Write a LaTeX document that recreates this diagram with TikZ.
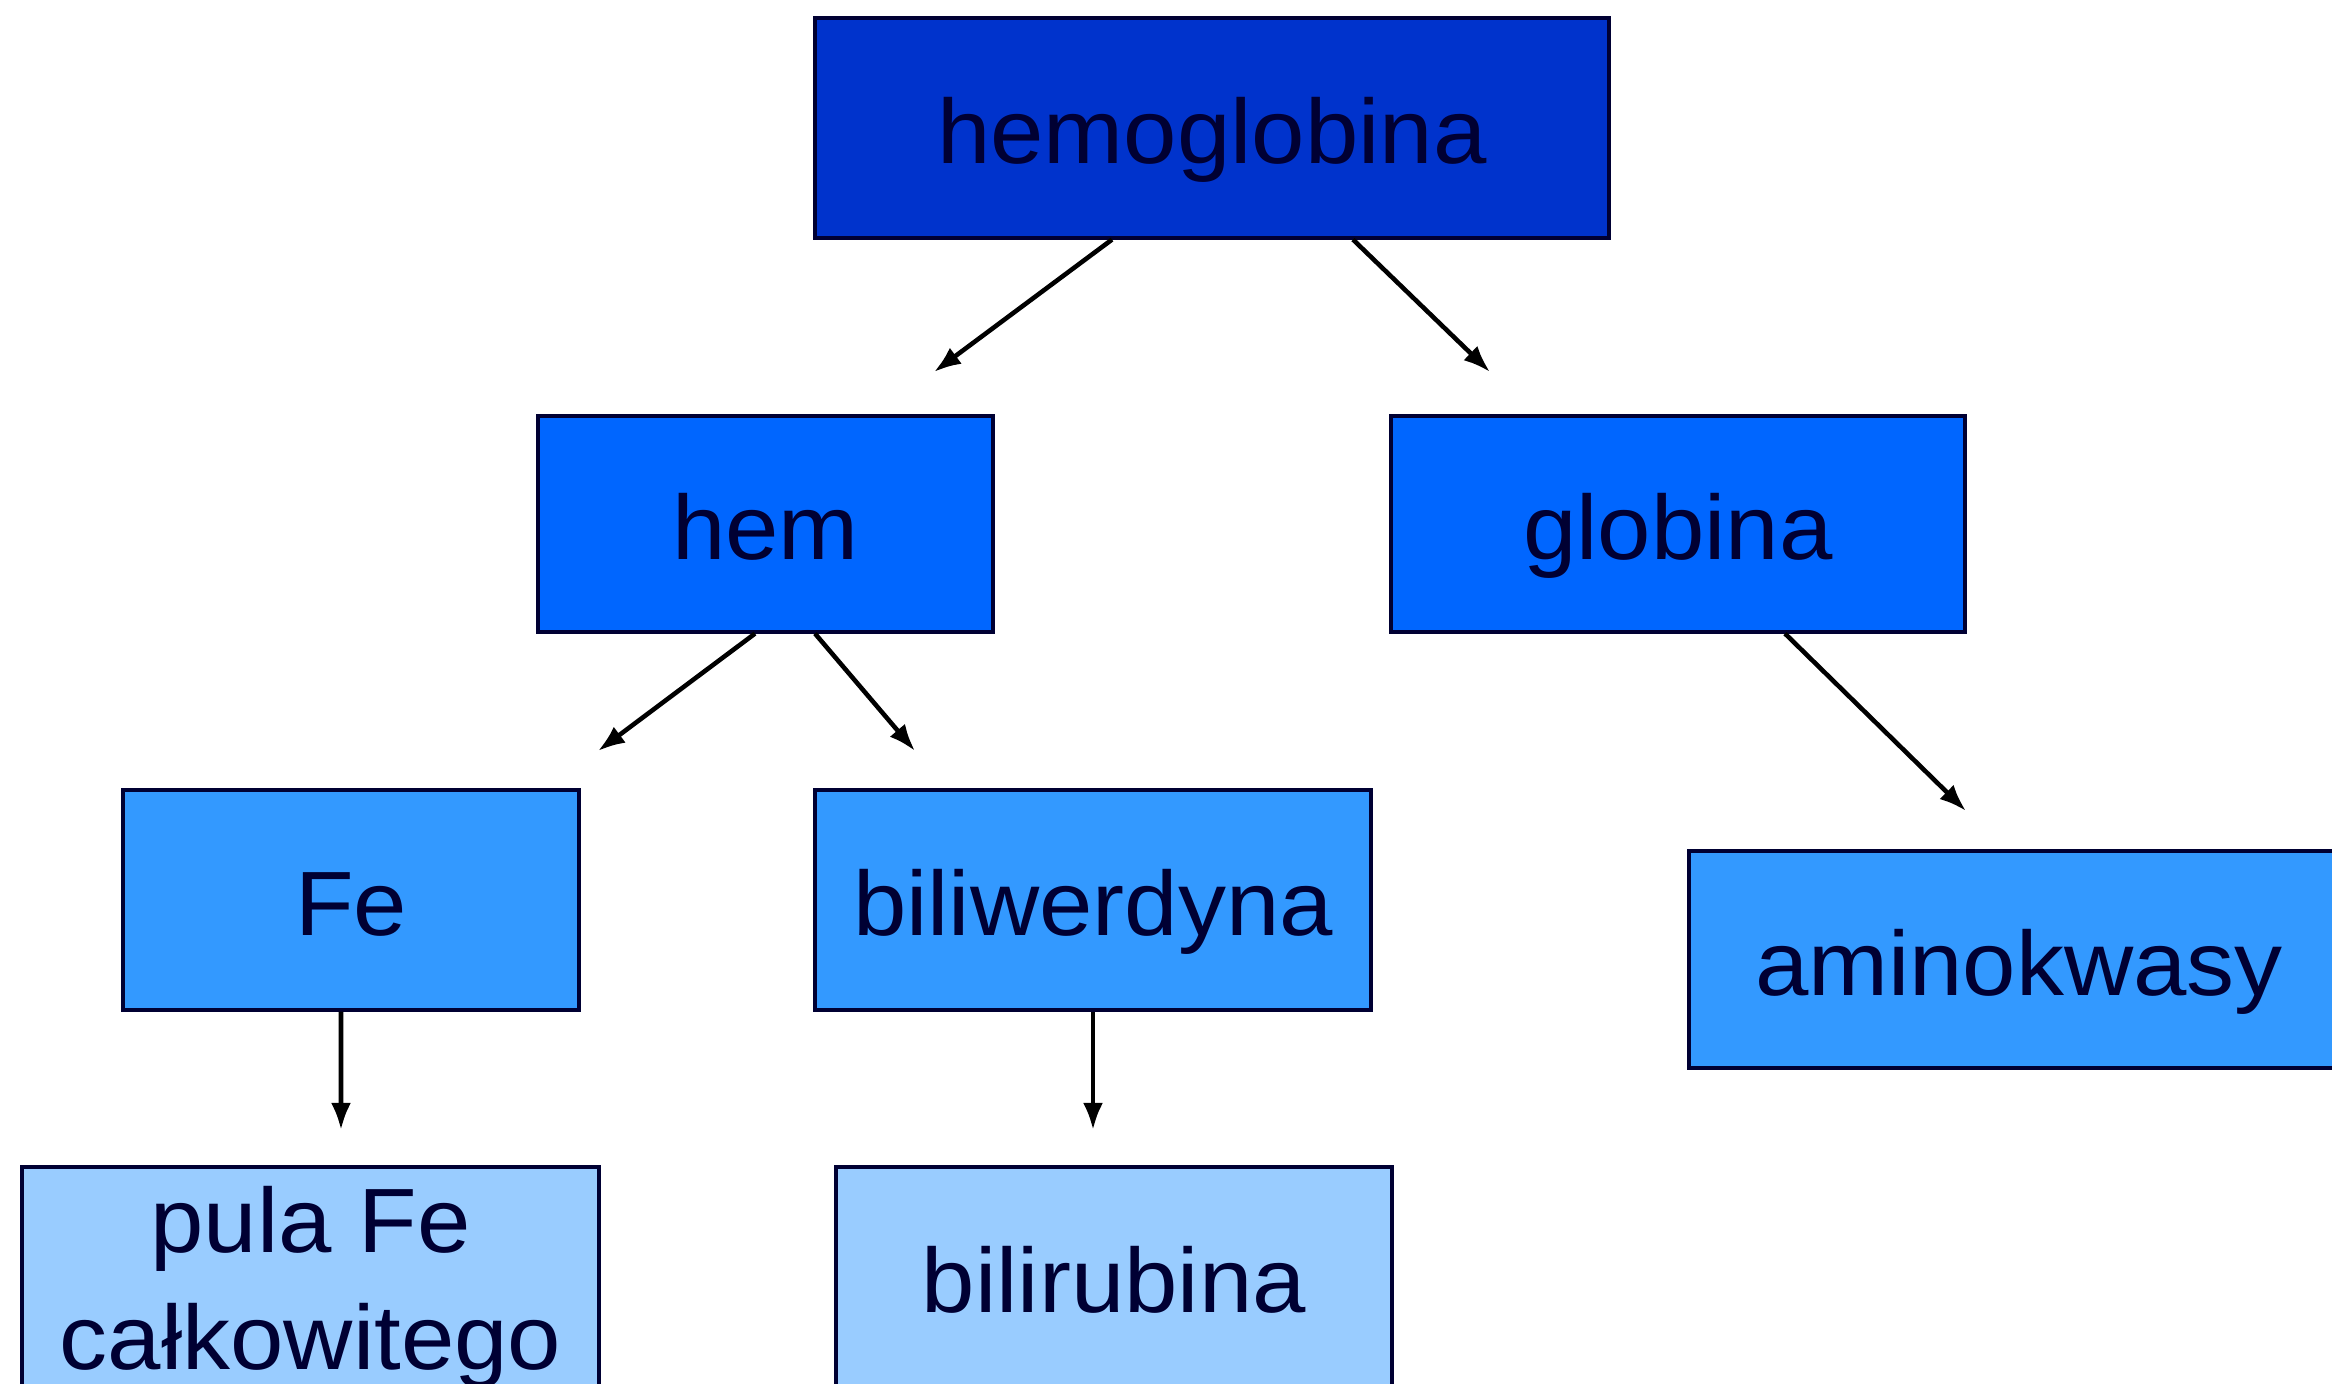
\documentclass[tikz,border=0pt]{standalone}
\usepackage{fontspec}
\setmainfont{Liberation Sans}[FakeStretch=1.05]
\usepackage{tikz}
\usetikzlibrary{arrows.meta}

\definecolor{ramka}{RGB}{0,0,51}
\definecolor{poz0}{RGB}{0,51,204}
\definecolor{poz1}{RGB}{0,102,255}
\definecolor{poz2}{RGB}{51,153,255}
\definecolor{poz3}{RGB}{153,204,255}

\tikzset{
	pole/.style={draw=ramka, line width=0.9pt, text=ramka, inner sep=0pt,
		minimum height=2.2cm, align=center, text height=0.95cm, text depth=0.23cm,
		font=\fontsize{26}{33.5}\selectfont},
	strz/.style={-{Latex[length=0.27cm,width=0.2cm]}, line width=1.3pt}
}

\begin{document}
\begin{tikzpicture}
		\useasboundingbox (0,0) rectangle (23.32,-13.84);
		\clip (0,0) rectangle (23.32,-13.84);
		\fill[white] (0,0) rectangle (23.32,-13.84);
		% pola
		\node[pole, fill=poz0, minimum width=7.94cm] (hemo) at (12.12,-1.28) {hemoglobina};
		\node[pole, fill=poz1, minimum width=4.55cm, minimum height=2.16cm] (hem) at (7.655,-5.24) {hem};
		\node[pole, fill=poz1, minimum width=5.74cm, minimum height=2.16cm] (glob) at (16.78,-5.24) {globina};
		\node[pole, fill=poz2, minimum width=4.56cm] (fe) at (3.51,-9.00) {Fe};
		\node[pole, fill=poz2, minimum width=5.56cm] (biliw) at (10.93,-9.00) {biliwerdyna};
		\node[pole, fill=poz2, minimum width=6.6cm, minimum height=2.17cm] (amino) at (20.19,-9.595) {aminokwasy};
		\node[pole, fill=poz3, minimum width=5.77cm, text height=1.86cm, text depth=0cm] (pula) at (3.105,-12.77) {pula Fe\\całkowitego};
		\node[pole, fill=poz3, minimum width=5.56cm] (bilir) at (11.14,-12.77) {bilirubina};
		% konce strzalek
		\coordinate (k1) at (9.34,-3.72);
		\coordinate (k2) at (14.90,-3.72);
		\coordinate (k3) at (5.98,-7.51);
		\coordinate (k4) at (9.15,-7.51);
		\coordinate (k5) at (19.66,-8.11);
		\coordinate (k6) at (3.41,-11.30);
		\coordinate (k7) at (10.93,-11.30);
		\draw[strz] ([xshift=-1.00cm]hemo.south) -- (k1);
		\draw[strz] ([xshift=1.41cm]hemo.south) -- (k2);
		\draw[strz] ([xshift=-0.105cm]hem.south) -- (k3);
		\draw[strz] ([xshift=0.495cm]hem.south) -- (k4);
		\draw[strz] ([xshift=1.07cm]glob.south) -- (k5);
		\draw[strz] ([xshift=-0.10cm]fe.south) -- (k6);
		\draw[strz] (biliw.south) -- (k7);
\end{tikzpicture}
\end{document}
